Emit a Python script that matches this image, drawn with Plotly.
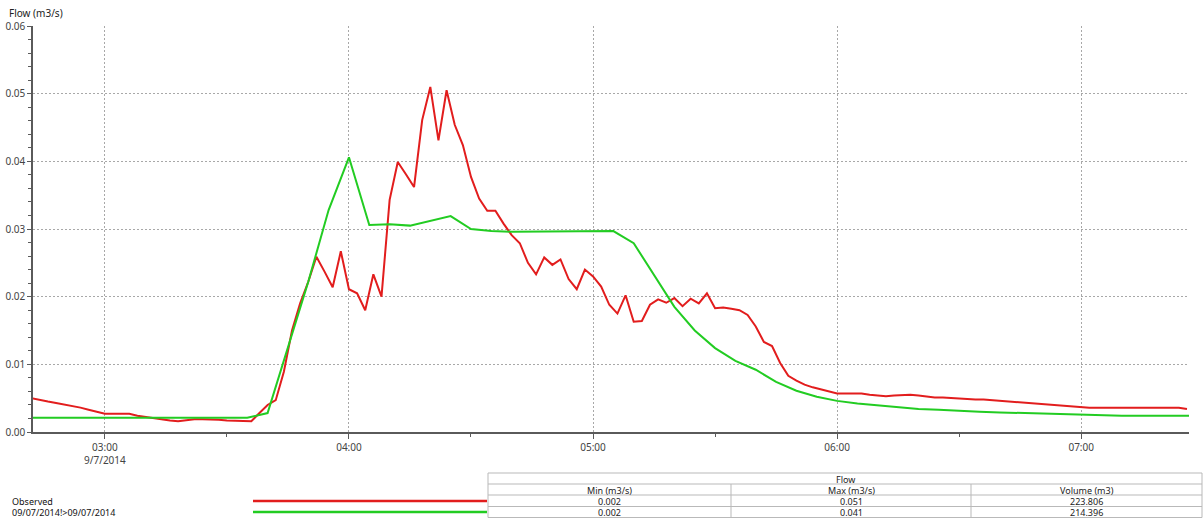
import pandas as pd
import plotly.graph_objects as go

# ---- data -------------------------------------------------------------
series_names = ["Observed", "09/07/2014!>09/07/2014"]

observed_start = "2014-07-09 02:42"   # 2-minute readings
observed_flow = [
    0.0050, 0.0047, 0.0045, 0.0043, 0.0041, 0.0038, 0.0036, 0.0033, 0.0030, 0.0027,
    0.0027, 0.0027, 0.0027, 0.0024, 0.0022, 0.0021, 0.0019, 0.0017, 0.0016, 0.0018,
    0.0019, 0.0019, 0.0019, 0.0018, 0.0017, 0.0017, 0.0016, 0.0016, 0.0028, 0.0040,
    0.0047, 0.0089, 0.0150, 0.0190, 0.0222, 0.0259, 0.0237, 0.0214, 0.0267, 0.0211,
    0.0205, 0.0180, 0.0233, 0.0200, 0.0343, 0.0399, 0.0381, 0.0362, 0.0461, 0.0510,
    0.0431, 0.0505, 0.0454, 0.0424, 0.0377, 0.0345, 0.0327, 0.0327, 0.0308, 0.0291,
    0.0279, 0.0250, 0.0233, 0.0258, 0.0247, 0.0255, 0.0226, 0.0211, 0.0240, 0.0230,
    0.0215, 0.0188, 0.0175, 0.0202, 0.0163, 0.0164, 0.0188, 0.0196, 0.0191, 0.0198,
    0.0186, 0.0197, 0.0190, 0.0205, 0.0183, 0.0184, 0.0182, 0.0180, 0.0173, 0.0156,
    0.0133, 0.0127, 0.0102, 0.0083, 0.0076, 0.0070, 0.0066, 0.0063, 0.0060, 0.0057,
    0.0057, 0.0057, 0.0057, 0.0055, 0.0054, 0.0053, 0.0054, 0.0055, 0.0055, 0.0054,
    0.0052, 0.0051, 0.0051, 0.0050, 0.0050, 0.0049, 0.0048, 0.0048, 0.0047, 0.0046,
    0.0046, 0.0045, 0.0044, 0.0043, 0.0042, 0.0041, 0.0040, 0.0039, 0.0038, 0.0036,
    0.0036, 0.0036, 0.0036, 0.0036, 0.0036, 0.0036, 0.0036, 0.0036, 0.0036, 0.0036,
    0.0036, 0.0036, 0.0034,
]

simulated_start = "2014-07-09 02:40"  # 5-minute model steps
simulated_flow = [
    0.0021, 0.0021, 0.0021, 0.0021, 0.0021, 0.0021, 0.0021, 0.0021, 0.0021, 0.0021,
    0.0021, 0.0021, 0.0028, 0.0125, 0.0222, 0.0328, 0.0406, 0.0306, 0.0307, 0.0305,
    0.0312, 0.0319, 0.0300, 0.0297, 0.0296, 0.0296, 0.0296, 0.0296, 0.0297, 0.0297,
    0.0279, 0.0232, 0.0185, 0.0150, 0.0124, 0.0105, 0.0092, 0.0074, 0.0061, 0.0052,
    0.0046, 0.0042, 0.0039, 0.0036, 0.0034, 0.0033, 0.0031, 0.0030, 0.0029, 0.0028,
    0.0027, 0.0026, 0.0025, 0.0025, 0.0024, 0.0024, 0.0024, 0.0024, 0.0024,
]

x_range = ["2014-07-09 02:42:20", "2014-07-09 07:26:30"]
hour_ticks = ["2014-07-09 03:00", "2014-07-09 04:00", "2014-07-09 05:00",
              "2014-07-09 06:00", "2014-07-09 07:00"]
hour_labels = ["03:00<br>9/7/2014", "04:00", "05:00", "06:00", "07:00"]
half_hour_ticks = ["2014-07-09 03:30", "2014-07-09 04:30",
                   "2014-07-09 05:30", "2014-07-09 06:30"]

y_ticks = [0.00, 0.01, 0.02, 0.03, 0.04, 0.05, 0.06]
y_labels = ["0.00", "0.01", "0.02", "0.03", "0.04", "0.05", "0.06"]

table_group = "Flow"
table_columns = ["Min (m3/s)", "Max (m3/s)", "Volume (m3)"]
volumes = ["223.806", "214.396"]

# ---- styling ----------------------------------------------------------
RED = "#e21d1d"
GREEN = "#22cc22"
AXIS = "#5a5a5a"
GRID = "#a8a8a8"
TABLE_LINE = "#b9b9b9"
FONT = "Noto Sans"

W, H = 1203, 518
L, R, T, B = 33, 14, 26, 86
PW, PH = W - L - R, H - T - B


def px(x):
    return (x - L) / PW


def py(y):
    return (H - B - y) / PH


obs_time = pd.date_range(observed_start, periods=len(observed_flow), freq="2min")
sim_time = pd.date_range(simulated_start, periods=len(simulated_flow), freq="5min")

fig = go.Figure()
fig.add_trace(go.Scatter(x=obs_time, y=observed_flow, mode="lines",
                         name=series_names[0], line=dict(color=RED, width=2)))
fig.add_trace(go.Scatter(x=sim_time, y=simulated_flow, mode="lines",
                         name=series_names[1], line=dict(color=GREEN, width=2)))

fig.update_layout(
    width=W, height=H,
    margin=dict(l=L, r=R, t=T, b=B, pad=0, autoexpand=False),
    paper_bgcolor="white", plot_bgcolor="white",
    showlegend=False,
    font=dict(family=FONT, size=10, color="#333333"),
)

fig.update_xaxes(
    type="date", range=x_range, automargin=False,
    tickmode="array", tickvals=hour_ticks, ticktext=hour_labels,
    ticks="outside", ticklen=5, tickcolor=AXIS, tickwidth=1,
    tickfont=dict(family=FONT, size=10, color="#444444"),
    showline=True, linecolor=AXIS, linewidth=1.5,
    showgrid=True, gridcolor=GRID, gridwidth=1, griddash="2px,2px",
    minor=dict(tickvals=half_hour_ticks, ticks="outside", ticklen=3,
               tickcolor=AXIS, showgrid=False),
    zeroline=False,
)
fig.update_yaxes(
    range=[0, 0.06], automargin=False,
    tickmode="array", tickvals=y_ticks, ticktext=y_labels,
    ticks="outside", ticklen=4, tickcolor=AXIS, tickwidth=1,
    tickfont=dict(family=FONT, size=10, color="#444444"),
    showline=True, linecolor=AXIS, linewidth=1.5,
    showgrid=True, gridcolor=GRID, gridwidth=1, griddash="2px,2px",
    minor=dict(dtick=0.002, ticks="outside", ticklen=3, tickcolor=AXIS,
               showgrid=False),
    zeroline=False,
)

annotations = []
shapes = []

# axis title
annotations.append(dict(text="Flow (m3/s)", x=px(7), y=py(13), xref="paper", yref="paper",
                        xanchor="left", yanchor="middle", showarrow=False,
                        font=dict(family=FONT, size=10, color="#222222")))

# legend rows below the chart
row_y = [501, 512]
colors = [RED, GREEN]
for name, yy, col in zip(series_names, row_y, colors):
    annotations.append(dict(text=name, x=px(10), y=py(yy), xref="paper", yref="paper",
                            xanchor="left", yanchor="middle", showarrow=False,
                            font=dict(family=FONT, size=9, color="#111111")))
    shapes.append(dict(type="line", xref="paper", yref="paper",
                       x0=px(253), x1=px(487), y0=py(yy), y1=py(yy),
                       line=dict(color=col, width=2.5)))

# summary table
tx0, tx1 = 488, 1202
col_edges = [488, 731, 971, 1202]
h_lines = [473, 484, 495, 506.5, 517.5]
for yy in h_lines:
    shapes.append(dict(type="line", xref="paper", yref="paper",
                       x0=px(tx0), x1=px(tx1), y0=py(yy), y1=py(yy),
                       line=dict(color=TABLE_LINE, width=1)))
shapes.append(dict(type="line", xref="paper", yref="paper",
                   x0=px(tx0), x1=px(tx0), y0=py(473), y1=py(517.5),
                   line=dict(color=TABLE_LINE, width=1)))
shapes.append(dict(type="line", xref="paper", yref="paper",
                   x0=px(tx1), x1=px(tx1), y0=py(473), y1=py(517.5),
                   line=dict(color=TABLE_LINE, width=1)))
for xx in col_edges[1:-1]:
    shapes.append(dict(type="line", xref="paper", yref="paper",
                       x0=px(xx), x1=px(xx), y0=py(484), y1=py(517.5),
                       line=dict(color=TABLE_LINE, width=1)))

cell_font = dict(family=FONT, size=9, color="#222222")
annotations.append(dict(text=table_group, x=px((tx0 + tx1) / 2), y=py(479),
                        xref="paper", yref="paper", xanchor="center", yanchor="middle",
                        showarrow=False, font=cell_font))
centers = [(col_edges[i] + col_edges[i + 1]) / 2 for i in range(3)]
for c, label in zip(centers, table_columns):
    annotations.append(dict(text=label, x=px(c), y=py(490), xref="paper", yref="paper",
                            xanchor="center", yanchor="middle", showarrow=False,
                            font=cell_font))

for flows, vol, yy in zip([observed_flow, simulated_flow], volumes, row_y):
    cells = [f"{min(flows):.3f}", f"{max(flows):.3f}", vol]
    for c, val in zip(centers, cells):
        annotations.append(dict(text=val, x=px(c), y=py(yy), xref="paper", yref="paper",
                                xanchor="center", yanchor="middle", showarrow=False,
                                font=cell_font))

fig.update_layout(annotations=annotations, shapes=shapes)
fig.write_html("out.html")
